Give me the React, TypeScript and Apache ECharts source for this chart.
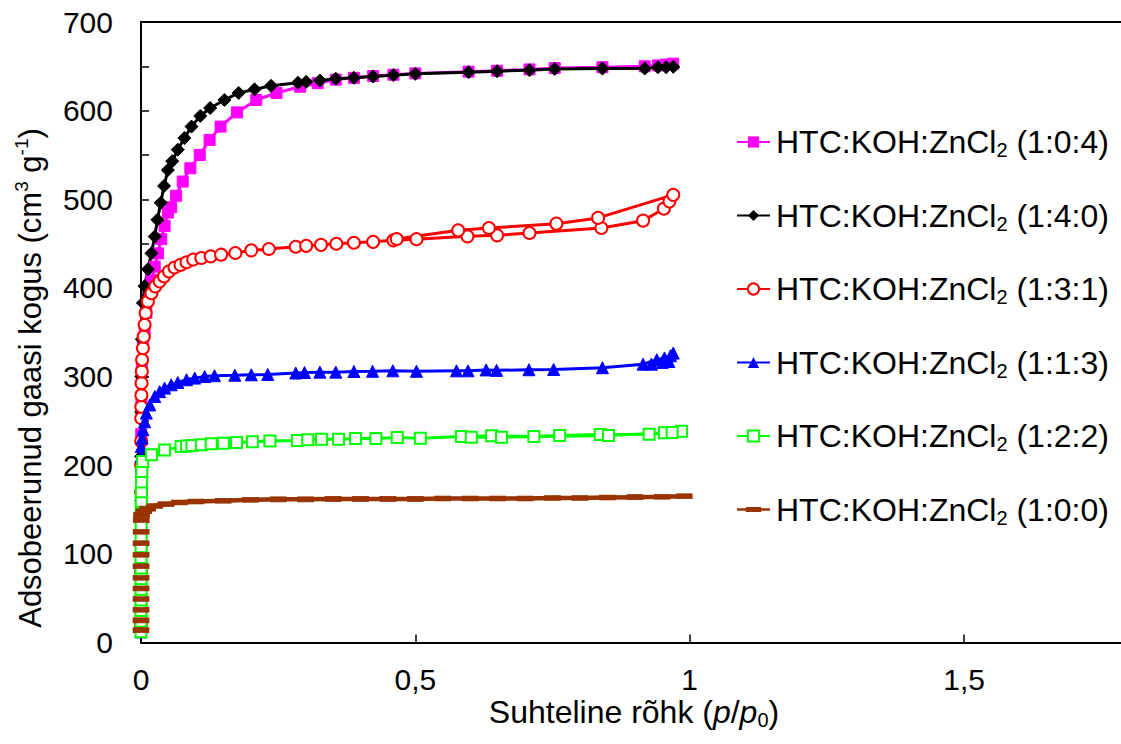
import React, { useEffect, useRef } from 'react';
import * as echarts from 'echarts';

const FONT = '"Liberation Sans", Arial, Helvetica, sans-serif';

const seriesNames = [
  'HTC:KOH:ZnCl2 (1:0:4)',
  'HTC:KOH:ZnCl2 (1:4:0)',
  'HTC:KOH:ZnCl2 (1:3:1)',
  'HTC:KOH:ZnCl2 (1:1:3)',
  'HTC:KOH:ZnCl2 (1:2:2)',
  'HTC:KOH:ZnCl2 (1:0:0)',
];
const seriesColors = ['#ff00ff', '#000000', '#ff0000', '#0000ff', '#00ff00', '#993300'];

const xTicks = [0, 0.5, 1, 1.5];
const yTicks = [0, 100, 200, 300, 400, 500, 600, 700];

// HTC:KOH:ZnCl2 (1:0:4)
const x104 = [0.00002, 0.00005, 0.0001, 0.0002, 0.0004, 0.0008, 0.0015, 0.0035, 0.0066, 0.0097, 0.016, 0.019, 0.025, 0.031, 0.037, 0.043, 0.049, 0.055, 0.064, 0.076, 0.09, 0.107, 0.125, 0.145, 0.175, 0.21, 0.247, 0.29, 0.322, 0.355, 0.388, 0.423, 0.46, 0.5, 0.597, 0.649, 0.708, 0.754, 0.841, 0.918, 0.942, 0.957, 0.97];
const y104 = [40, 90, 140, 190, 235, 275, 310, 342, 350, 372, 394, 409, 424, 439, 455, 470, 485, 491, 504, 520, 535, 550, 567, 582, 598, 612, 620, 627, 631, 635, 637, 639, 640.5, 642, 644, 645, 646.5, 648, 649, 650, 651, 652, 653];

// HTC:KOH:ZnCl2 (1:4:0)
const x140 = [0.00002, 0.00005, 0.0001, 0.0002, 0.0003, 0.0005, 0.0015, 0.0035, 0.0066, 0.0126, 0.019, 0.025, 0.03, 0.036, 0.042, 0.049, 0.057, 0.067, 0.079, 0.092, 0.108, 0.126, 0.152, 0.178, 0.207, 0.237, 0.286, 0.301, 0.326, 0.355, 0.388, 0.423, 0.46, 0.5, 0.597, 0.649, 0.708, 0.754, 0.841, 0.918, 0.942, 0.957, 0.97];
const y140 = [60, 110, 160, 210, 260, 300, 342, 383, 402, 421, 439, 458, 477, 496, 515, 533, 543, 556, 569, 582, 594, 603, 612, 620, 624, 628, 631.5, 632.5, 634, 636, 637, 638.5, 640, 641.5, 643.3, 644.5, 645.6, 647, 647.5, 647.5, 649, 649, 649.4];

// HTC:KOH:ZnCl2 (1:3:1) — adsorption then desorption
const x131 = [0.00001, 0.00002, 0.00004, 0.00007, 0.0001, 0.00015, 0.0002, 0.0003, 0.0004, 0.0005, 0.0007, 0.001, 0.0015, 0.002, 0.0035, 0.005, 0.0066, 0.0084, 0.0126, 0.019, 0.026, 0.034, 0.042, 0.051, 0.061, 0.072, 0.083, 0.095, 0.11, 0.127, 0.146, 0.172, 0.201, 0.233, 0.282, 0.301, 0.328, 0.356, 0.388, 0.423, 0.46, 0.502, 0.595, 0.649, 0.708, 0.839, 0.915, 0.953, 0.963, 0.97, 0.833, 0.757, 0.634, 0.578, 0.466];
const y131 = [20, 50, 80, 110, 140, 170, 200, 227, 253, 266, 279, 292.6, 305.8, 319, 332, 345, 358.5, 371.7, 384.8, 394, 401.7, 407.4, 413, 418.7, 423, 426, 429, 432, 433.8, 435.6, 437.5, 439.4, 442.4, 443.9, 446.5, 447.5, 448.6, 449.8, 451, 452, 453.7, 455, 458.2, 459.3, 462, 467.6, 475.9, 489.4, 497.7, 505, 479, 472.5, 467.6, 465, 455.2];

// HTC:KOH:ZnCl2 (1:1:3)
const x113 = [0.00001, 0.00002, 0.00004, 0.00007, 0.0001, 0.00013, 0.00016, 0.0002, 0.00025, 0.0003, 0.0002, 0.0005, 0.002, 0.0035, 0.0066, 0.0097, 0.016, 0.025, 0.034, 0.043, 0.055, 0.067, 0.083, 0.098, 0.116, 0.134, 0.171, 0.201, 0.231, 0.282, 0.298, 0.326, 0.355, 0.388, 0.422, 0.459, 0.502, 0.575, 0.596, 0.629, 0.648, 0.707, 0.752, 0.841, 0.915, 0.94, 0.954, 0.965, 0.97, 0.962, 0.95, 0.93];
const y113 = [12, 30, 50, 70, 90, 110, 130, 150, 170, 190, 209.8, 221, 230.5, 240, 249, 258.8, 268, 277.5, 283, 287, 290.7, 293.3, 296.4, 298.3, 300, 301, 301.5, 302, 302.4, 304, 304.6, 305, 305, 305.8, 306, 306.5, 306, 306.5, 306.5, 307.5, 307, 307.7, 308, 310, 314, 319, 321, 323.5, 326.5, 317, 316, 314];

// HTC:KOH:ZnCl2 (1:2:2)
const x122 = [0.00001, 0.00002, 0.00004, 0.00006, 0.00008, 0.0001, 0.00013, 0.00016, 0.0002, 0.00025, 0.0003, 0.0004, 0.0005, 0.0007, 0.001, 0.0015, 0.003, 0.019, 0.043, 0.073, 0.083, 0.093, 0.11, 0.128, 0.15, 0.174, 0.203, 0.235, 0.285, 0.304, 0.329, 0.36, 0.391, 0.428, 0.467, 0.509, 0.584, 0.639, 0.716, 0.763, 0.837, 0.926, 0.954, 0.985, 0.968, 0.852, 0.657, 0.602];
const y122 = [12, 24, 36, 48, 60, 72, 84, 96, 108, 120, 132, 145, 159, 170, 181, 193, 204.2, 211.7, 217.3, 221, 221.8, 222.2, 223, 224.1, 224.9, 225.6, 226.4, 227.2, 227.9, 228.6, 229.4, 229.4, 230.1, 230.1, 231.2, 230.5, 232.4, 233.1, 232.4, 233.5, 234.6, 235, 236.5, 238.4, 236.9, 233.5, 231.6, 231.6];

// HTC:KOH:ZnCl2 (1:0:0)
const x100 = [0.00001, 0.00002, 0.00004, 0.00006, 0.00008, 0.0001, 0.00013, 0.00016, 0.0002, 0.0003, 0.0005, 0.001, 0.005, 0.012, 0.025, 0.045, 0.07, 0.1, 0.15, 0.2, 0.25, 0.3, 0.35, 0.4, 0.45, 0.5, 0.55, 0.6, 0.65, 0.7, 0.75, 0.8, 0.85, 0.9, 0.95, 0.99];
const y100 = [14, 25, 37, 49, 61, 73, 86, 99, 112, 125, 138, 144, 148, 151, 154, 156, 158, 159, 160, 161, 161.5, 161.5, 162, 162, 162, 162, 162.5, 162.5, 162.5, 162.5, 163, 163, 163.5, 164, 164.5, 165];

const xs = [x104, x140, x131, x113, x122, x100];
const ys = [y104, y140, y131, y113, y122, y100];
const symbols = ['rect', 'diamond', 'emptyCircle', 'triangle', 'emptyRect', 'rect'];
const symbolSizes: any[] = [11, 13, 12, 12, 11, [15, 5]];

const X_MAX = 1.786;

export default function App() {
  const ref = useRef<HTMLDivElement>(null);
  useEffect(() => {
    if (!ref.current) return;
    const chart = echarts.init(ref.current, undefined, { renderer: 'svg' });
    const series = seriesNames.map((name, i) => ({
      name,
      type: 'line',
      data: xs[i].map((x, k) => [x, ys[i][k]]),
      symbol: symbols[i],
      symbolSize: symbolSizes[i],
      showAllSymbol: true,
      clip: false,
      lineStyle: { color: seriesColors[i], width: i === 5 ? 4.5 : 3 },
      itemStyle: { color: seriesColors[i], borderColor: seriesColors[i] },
      emphasis: { disabled: true },
    }));
    chart.setOption({
      animation: false,
      textStyle: { fontFamily: FONT },
      grid: { left: 141, top: 22, right: 0, bottom: 101.5, containLabel: false },
      xAxis: [
        {
          type: 'value',
          position: 'bottom',
          min: xTicks[0],
          max: X_MAX,
          interval: 0.5,
          axisLine: { show: true, onZero: false, lineStyle: { color: '#000', width: 2 } },
          axisTick: { show: true, inside: true, length: 8, lineStyle: { color: '#000', width: 1.5 } },
          axisLabel: {
            fontSize: 30,
            fontFamily: FONT,
            color: '#000',
            margin: 22,
            showMaxLabel: false,
            formatter: (v: number) => (xTicks.includes(v) ? String(v).replace('.', ',') : ''),
          },
          splitLine: { show: false },
        },
        {
          type: 'value',
          position: 'top',
          min: xTicks[0],
          max: X_MAX,
          axisLine: { show: true, onZero: false, lineStyle: { color: '#000', width: 2 } },
          axisTick: { show: false },
          axisLabel: { show: false },
          splitLine: { show: false },
        },
      ],
      yAxis: {
        type: 'value',
        min: 0,
        max: 700,
        interval: 50,
        axisLine: { show: true, onZero: false, lineStyle: { color: '#000', width: 2 } },
        axisTick: { show: true, inside: true, length: 8, lineStyle: { color: '#000', width: 1.5 } },
        axisLabel: {
          fontSize: 30,
          fontFamily: FONT,
          color: '#000',
          margin: 28,
          formatter: (v: number) => (yTicks.includes(v) ? String(v) : ''),
        },
        splitLine: { show: false },
      },
      legend: {
        orient: 'vertical',
        left: 731,
        top: 119,
        itemWidth: 33,
        itemHeight: 14,
        itemGap: 37.5,
        selectedMode: false,
        data: seriesNames.map((n, i) =>
          i === 5 ? { name: n, icon: 'path://M0,5.2h32v2.6h-32z M8.5,4h15v5h-15z' } : { name: n }
        ),
        formatter: (name: string) => name.replace('ZnCl2', 'ZnCl{sub|2}'),
        textStyle: {
          fontSize: 32,
          fontFamily: FONT,
          color: '#000',
          lineHeight: 36,
          padding: [0, 0, 0, 1],
          rich: {
            sub: { fontSize: 20, fontFamily: FONT, color: '#000', lineHeight: 14, verticalAlign: 'bottom' },
          },
        },
      },
      graphic: [
        {
          type: 'text',
          x: 634,
          y: 712,
          style: {
            text: 'Suhteline rõhk ({i|p}/{i|p}{sub|0})',
            fontSize: 32,
            fontFamily: FONT,
            fill: '#000',
            align: 'center',
            verticalAlign: 'middle',
            lineHeight: 36,
            rich: {
              i: { fontSize: 32, fontFamily: FONT, fontStyle: 'italic', fill: '#000', lineHeight: 36 },
              sub: { fontSize: 20, fontFamily: FONT, fill: '#000', lineHeight: 14, verticalAlign: 'bottom' },
            },
          },
        },
        {
          type: 'text',
          x: 30,
          y: 378,
          rotation: Math.PI / 2,
          style: {
            text: 'Adsobeerunud gaasi kogus (cm{sup|3} g{sup|-1})',
            fontSize: 31,
            fontFamily: FONT,
            fill: '#000',
            align: 'center',
            verticalAlign: 'middle',
            lineHeight: 36,
            rich: {
              sup: { fontSize: 19, fontFamily: FONT, fill: '#000', lineHeight: 24, verticalAlign: 'top' },
            },
          },
        },
      ],
      series,
    });
    return () => chart.dispose();
  }, []);
  return (
    <div
      ref={ref}
      style={{ position: 'fixed', left: 0, top: 0, width: 1121, height: 744, background: '#fff' }}
    />
  );
}
